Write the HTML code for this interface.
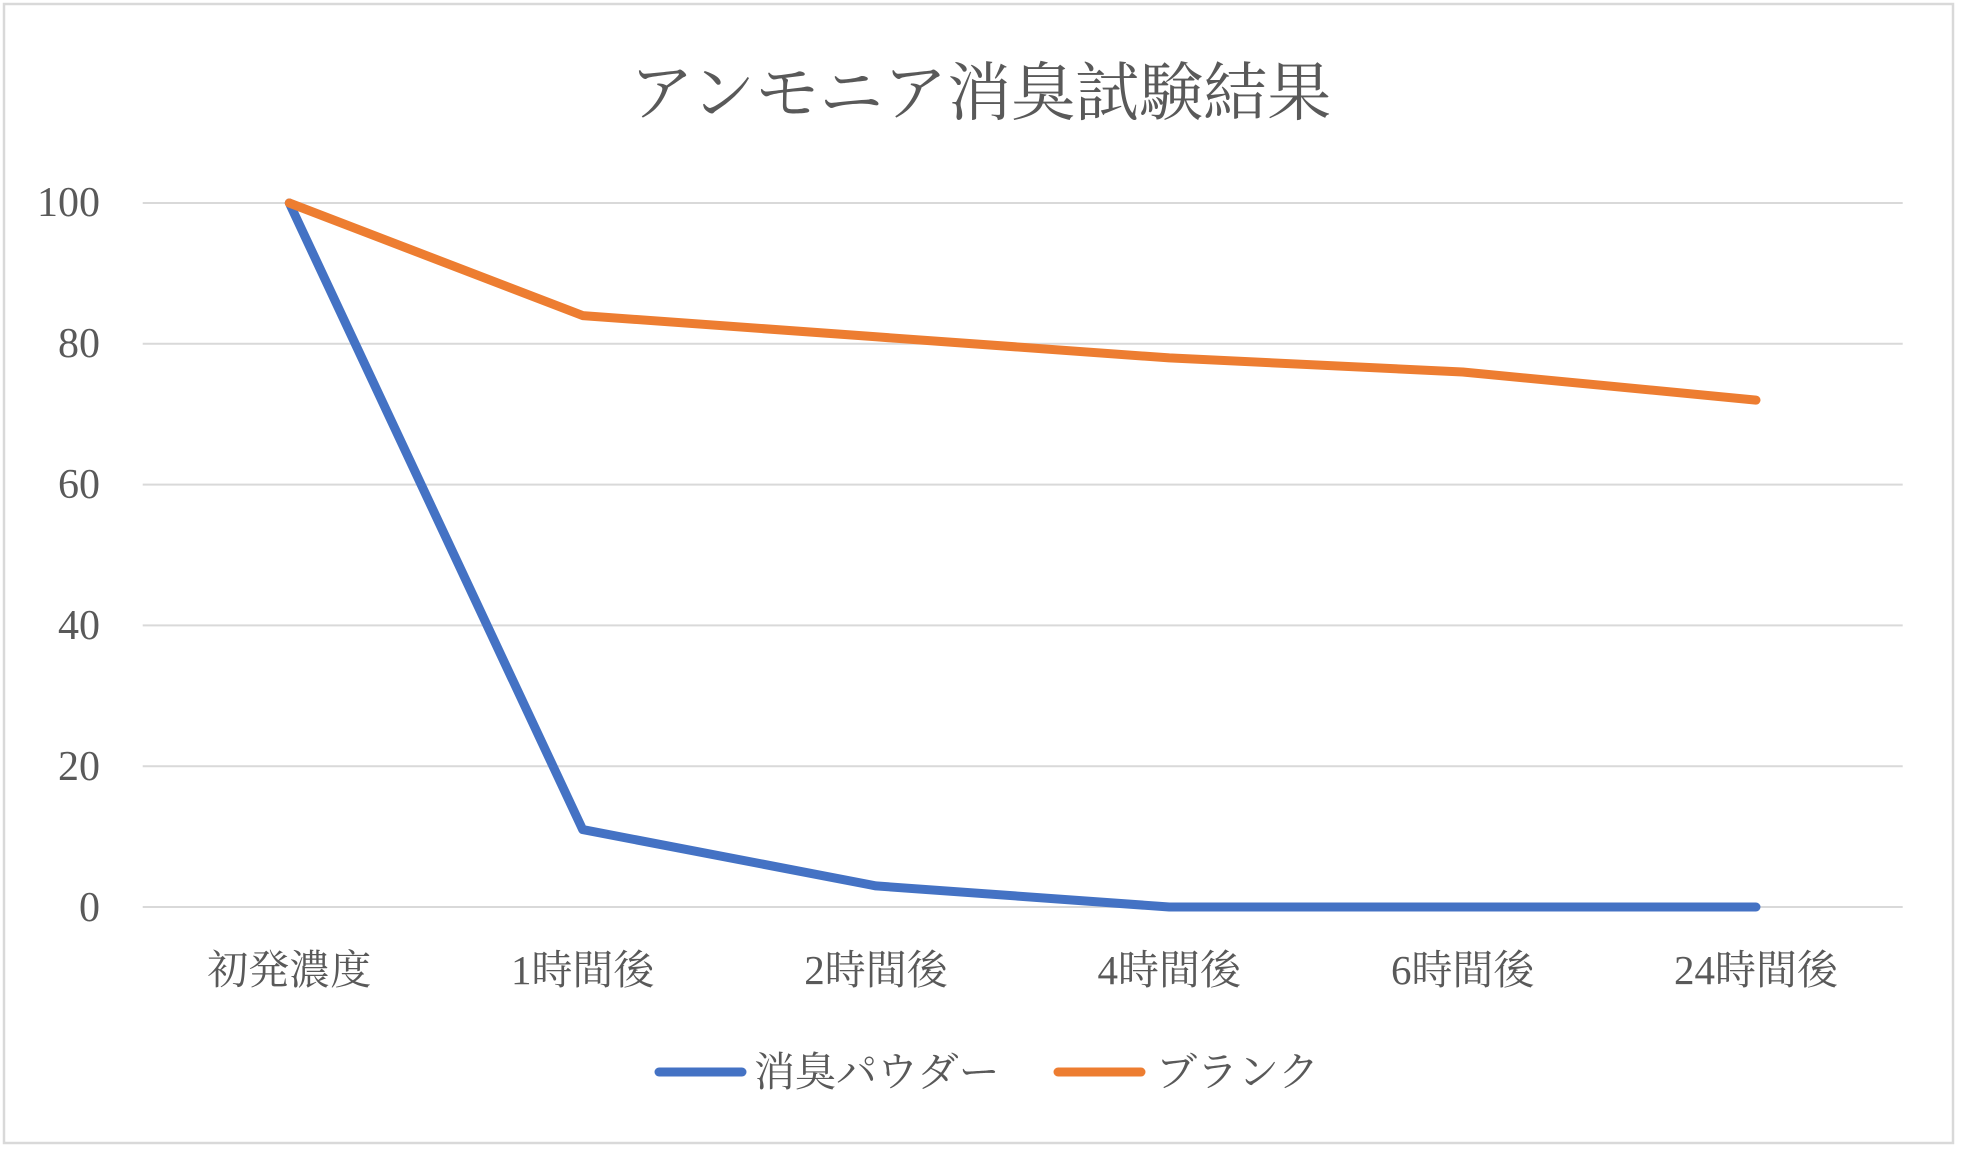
<!DOCTYPE html>
<html><head><meta charset="utf-8"><style>
html,body{margin:0;padding:0;background:#fff;}
svg{display:block;}
text{font-family:"Liberation Serif","Noto Serif CJK SC",serif;fill:#595959;}
</style></head><body>
<svg width="1961" height="1150" viewBox="0 0 1961 1150" xmlns="http://www.w3.org/2000/svg">
<rect x="0" y="0" width="1961" height="1150" fill="#fff"/>
<rect x="4" y="4" width="1949" height="1139" fill="none" stroke="#d9d9d9" stroke-width="2.5"/>
<text x="980.5" y="115" font-size="64" text-anchor="middle">アンモニア消臭試験結果</text>
<g stroke="#d9d9d9" stroke-width="2">
<line x1="142.7" y1="203" x2="1902.7" y2="203"/>
<line x1="142.7" y1="343.8" x2="1902.7" y2="343.8"/>
<line x1="142.7" y1="484.6" x2="1902.7" y2="484.6"/>
<line x1="142.7" y1="625.4" x2="1902.7" y2="625.4"/>
<line x1="142.7" y1="766.2" x2="1902.7" y2="766.2"/>
<line x1="142.7" y1="907" x2="1902.7" y2="907"/>
</g>
<g font-size="42" text-anchor="end">
<text x="100" y="216">100</text>
<text x="100" y="357">80</text>
<text x="100" y="498">60</text>
<text x="100" y="639">40</text>
<text x="100" y="780">20</text>
<text x="100" y="921">0</text>
</g>
<g font-size="41" text-anchor="middle">
<text x="289.3" y="984">初発濃度</text>
<text x="582.7" y="984">1時間後</text>
<text x="876" y="984">2時間後</text>
<text x="1169.3" y="984">4時間後</text>
<text x="1462.7" y="984">6時間後</text>
<text x="1756" y="984">24時間後</text>
</g>
<polyline fill="none" stroke="#4472c4" stroke-width="9" stroke-linejoin="round" stroke-linecap="round"
 points="289.3,203 582.7,829.6 876,885.9 1169.3,907 1462.7,907 1756,907"/>
<polyline fill="none" stroke="#ed7d31" stroke-width="9" stroke-linejoin="round" stroke-linecap="round"
 points="289.3,203 582.7,315.6 876,336.8 1169.3,357.9 1462.7,372 1756,400.1"/>
<line x1="659" y1="1072" x2="742" y2="1072" stroke="#4472c4" stroke-width="9" stroke-linecap="round"/>
<text x="754" y="1086" font-size="41">消臭パウダー</text>
<line x1="1058" y1="1072" x2="1141" y2="1072" stroke="#ed7d31" stroke-width="9" stroke-linecap="round"/>
<text x="1156" y="1086" font-size="41">ブランク</text>
</svg>
</body></html>
